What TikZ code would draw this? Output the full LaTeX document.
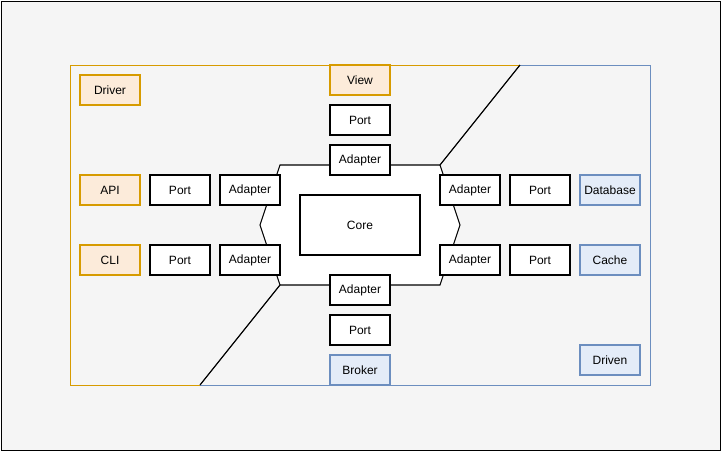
\documentclass[tikz,border=0pt]{standalone}
\usepackage{fontspec}
\setmainfont{Liberation Sans}
\usepackage{xcolor}
\usetikzlibrary{positioning}
\definecolor{bggray}{HTML}{F5F5F5}
\definecolor{drvline}{HTML}{D79B00}
\definecolor{drvfill}{HTML}{FCEBDA}
\definecolor{dnline}{HTML}{6C8EBF}
\definecolor{dnfill}{HTML}{E4ECF8}

\begin{document}
\begin{tikzpicture}[x=0.75pt, y=-0.75pt,
  cell/.style={draw, line width=0.8pt, fill=white, minimum width=45pt, minimum height=22.5pt, inner sep=0pt, font=\fontsize{9}{11}\selectfont},
  driver/.style={cell, draw=drvline, fill=drvfill},
  driven/.style={cell, draw=dnline, fill=dnfill},
  zone/.style={line width=0.75pt},
  split/.style={line width=0.9pt, black}
]
\useasboundingbox (0,0) rectangle (721,451);
\draw[fill=bggray, line width=0.6pt] (1,1) rectangle (720,450);

% region corners
\coordinate (zone-top) at (520,65);
\coordinate (zone-bottom) at (200,385);
\draw[zone, drvline] (zone-top) -- (70,65) -- (70,385) -- (zone-bottom);
\draw[zone, dnline] (zone-top) -- (650,65) -- (650,385) -- (zone-bottom);

% hexagon round the core
\coordinate (hex-nw) at (280,165);
\coordinate (hex-ne) at (440,165);
\coordinate (hex-e) at (460,225);
\coordinate (hex-se) at (440,285);
\coordinate (hex-sw) at (280,285);
\coordinate (hex-w) at (260,225);
\draw[fill=white, line width=0.8pt] (hex-nw) -- (hex-ne) -- (hex-e) -- (hex-se) -- (hex-sw) -- (hex-w) -- cycle;
\draw[split] (hex-ne) -- (zone-top);
\draw[split] (hex-sw) -- (zone-bottom);

\node[cell, minimum width=90pt, minimum height=45pt] (core) at (360,225) {Core};

% top
\node[driver] (view) at (360,80) {View};
\node[cell] (view-port) at (360,120) {Port};
\node[cell] (view-adapter) at (360,160) {Adapter};

% left
\node[driver] (driver) at (110,90) {Driver};
\node[driver] (api) at (110,190) {API};
\node[cell] (api-port) at (180,190) {Port};
\node[cell] (api-adapter) at (250,190) {Adapter};
\node[driver] (cli) at (110,260) {CLI};
\node[cell] (cli-port) at (180,260) {Port};
\node[cell] (cli-adapter) at (250,260) {Adapter};

% right
\node[cell] (db-adapter) at (470,190) {Adapter};
\node[cell] (db-port) at (540,190) {Port};
\node[driven] (db) at (610,190) {Database};
\node[cell] (cache-adapter) at (470,260) {Adapter};
\node[cell] (cache-port) at (540,260) {Port};
\node[driven] (cache) at (610,260) {Cache};
\node[driven] (driven) at (610,360) {Driven};

% bottom
\node[cell] (broker-adapter) at (360,290) {Adapter};
\node[cell] (broker-port) at (360,330) {Port};
\node[driven] (broker) at (360,370) {Broker};
\end{tikzpicture}
\end{document}
